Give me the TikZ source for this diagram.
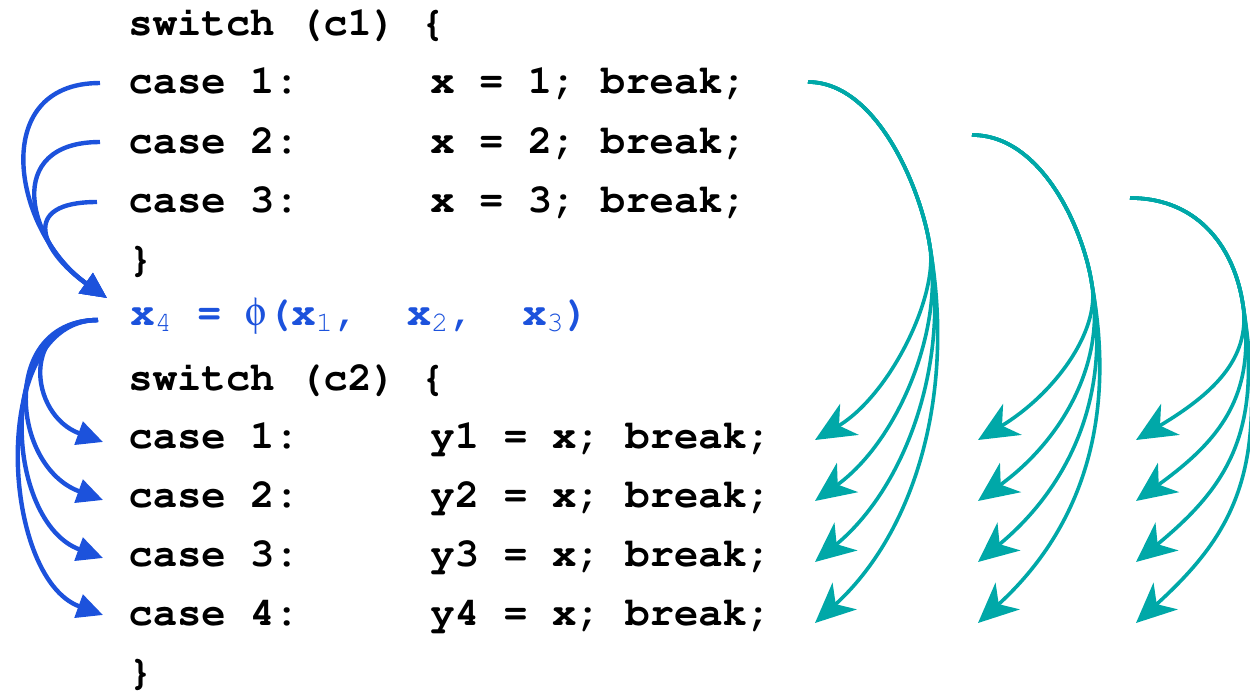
\documentclass[tikz,border=0pt]{standalone}
\usepackage[T1]{fontenc}
\usepackage[Symbol]{upgreek}
\renewcommand{\ttdefault}{pcr}
\usetikzlibrary{arrows.meta}

\definecolor{phiblue}{RGB}{28,82,220}
\definecolor{flowteal}{RGB}{0,168,168}

\tikzset{
  code/.style={anchor=base west, inner sep=0pt, font=\fontsize{20.3}{24}\selectfont\ttfamily\bfseries},
  phiarrow/.style={draw=phiblue, line width=2.2pt, -{Triangle[length=13pt,width=12pt]}},
  casearrow/.style={draw=flowteal, line width=1.8pt, -{Stealth[length=20pt,width=18pt,inset=6pt]}}
}

\begin{document}
\begin{tikzpicture}[x=0.5pt, y=0.5pt]
\useasboundingbox (0,0) rectangle (1250,-692);
\clip (0,0) rectangle (1250,-692);
% first switch
\node[code] (sw1) at (128,-35) {switch (c1) \{};
\node[code] (ca1) at (128,-93) {case 1:}; \node[code] (xa1) at (430,-93) {x = 1; break;};
\node[code] (ca2) at (128,-153) {case 2:}; \node[code] (xa2) at (430,-153) {x = 2; break;};
\node[code] (ca3) at (128,-212) {case 3:}; \node[code] (xa3) at (430,-212) {x = 3; break;};
\node[code] (cl1) at (128,-271) {\}};
% phi function
\node[code, text=phiblue] (phi) at (130,-325) {x\textsubscript{\mdseries 4} = $\upphi$(x\textsubscript{\mdseries 1},~~x\textsubscript{\mdseries 2},~~x\textsubscript{\mdseries 3})};
% second switch
\node[code] (sw2) at (128,-390) {switch (c2) \{};
\node[code] (cb1) at (128,-448) {case 1:}; \node[code] (yb1) at (430,-448) {y1 = x; break;};
\node[code] (cb2) at (128,-507) {case 2:}; \node[code] (yb2) at (430,-507) {y2 = x; break;};
\node[code] (cb3) at (128,-566) {case 3:}; \node[code] (yb3) at (430,-566) {y3 = x; break;};
\node[code] (cb4) at (128,-625) {case 4:}; \node[code] (yb4) at (430,-625) {y4 = x; break;};
\node[code] (cl2) at (128,-684) {\}};

% arrow ends
\coordinate (in1) at (100,-83); \coordinate (in2) at (100,-142); \coordinate (in3) at (97,-202);
\coordinate (join) at (107,-298); \coordinate (out) at (98,-320);
\foreach \k/\y in {1/442,2/500,3/558,4/615} \coordinate (use\k) at (103,-\y);
\coordinate (def1) at (808,-82); \coordinate (def2) at (972,-135); \coordinate (def3) at (1130,-198);
\coordinate (turn1) at (930,-247); \coordinate (turn2) at (1092,-285); \coordinate (turn3) at (1243,-305);
\foreach \g/\x in {1/815,2/978,3/1136}
  \foreach \k/\y in {1/440,2/501,3/562,4/623}
    \coordinate (hit\g\k) at (\x,-\y);

% merge into phi
\draw[phiarrow] (in1) to[out=180, in=145, looseness=1.35] (join);
\draw[phiarrow] (in2) to[out=180, in=145, looseness=1.6] (join);
\draw[phiarrow] (in3) to[out=180, in=145, looseness=2.1] (join);
% phi to uses
\foreach \k/\l in {1/1.65,2/1.4,3/1.12,4/0.95}
  \draw[phiarrow] (out) to[out=180, in=160, looseness=\l] (use\k);

% every def reaches every case
\foreach \g/\f in {1/1.0,2/0.95,3/1.1}
  \foreach \k in {1,...,4}
    \draw[casearrow] (def\g) .. controls +(70,0) and +(-8,55) .. (turn\g)
      .. controls +({2+6*\k},{-(17+33*\k)*\f}) and +({67+8*\k},{30+15*\k}) .. (hit\g\k);
\end{tikzpicture}
\end{document}
